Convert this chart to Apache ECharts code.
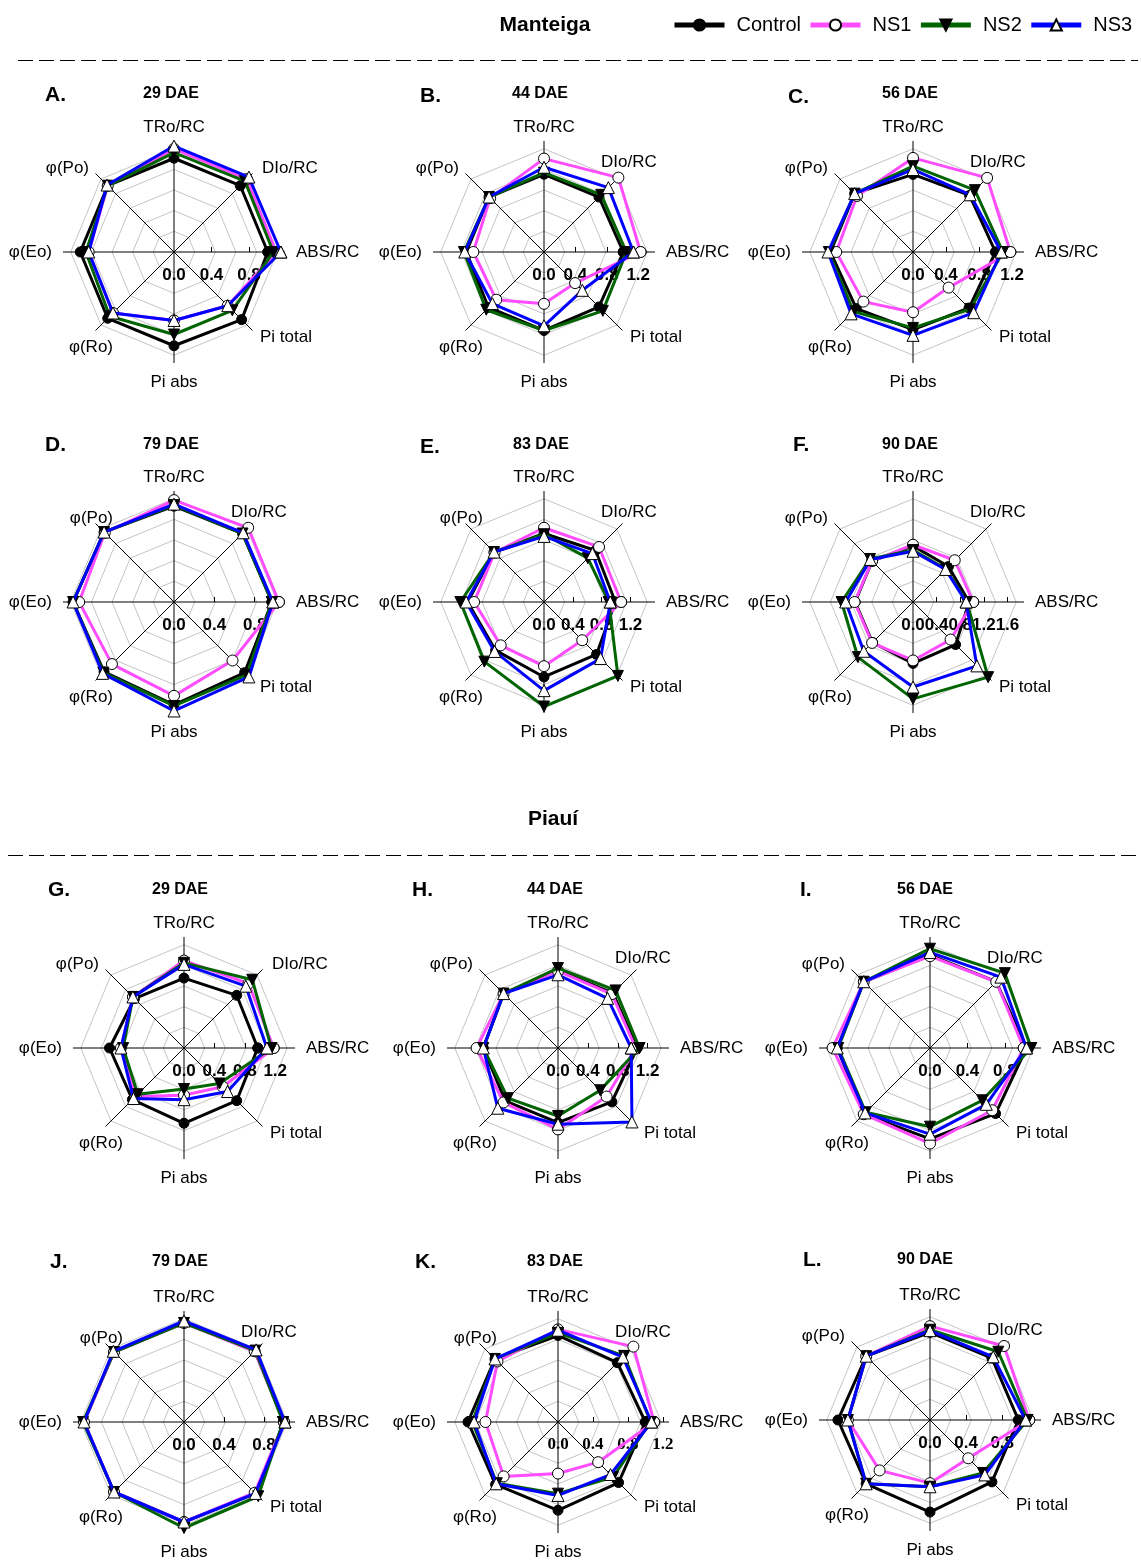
<!DOCTYPE html>
<html><head><meta charset="utf-8">
<script src="https://cdn.jsdelivr.net/npm/echarts@6/dist/echarts.min.js"></script>
<style>html,body{margin:0;padding:0;background:#fff}#c{width:1141px;height:1561px}</style>
</head><body><div id="c"></div>
<script>
// ---------- data ----------
const indicators = ['TRo/RC', 'DIo/RC', 'ABS/RC', 'Pi total', 'Pi abs', 'φ(Ro)', 'φ(Eo)', 'φ(Po)'];
const seriesNames = ['Control', 'NS1', 'NS2', 'NS3'];
const panelLetters = ['A.', 'B.', 'C.', 'D.', 'E.', 'F.', 'G.', 'H.', 'I.', 'J.', 'K.', 'L.'];
const panelDays = ['29 DAE', '44 DAE', '56 DAE', '79 DAE', '83 DAE', '90 DAE', '29 DAE', '44 DAE', '56 DAE', '79 DAE', '83 DAE', '90 DAE'];
const groupTitles = ['Manteiga', 'Piauí'];
// radial axis maximum (value at the end of the spokes) and tick labels of each panel
const radialMax = [1.184, 1.414, 1.345, 1.10, 1.54, 1.88, 1.46, 1.486, 1.185, 1.11, 1.27, 1.23];
const tickLabels = [
  [0, 0.4, 0.8], [0, 0.4, 0.8, 1.2], [0, 0.4, 0.8, 1.2],
  [0, 0.4, 0.8], [0, 0.4, 0.8, 1.2], [0, 0.4, 0.8, 1.2, 1.6],
  [0, 0.4, 0.8, 1.2], [0, 0.4, 0.8, 1.2], [0, 0.4, 0.8],
  [0, 0.4, 0.8], [0, 0.4, 0.8, 1.2], [0, 0.4, 0.8]
];
// values in indicator order: TRo/RC, DIo/RC, ABS/RC, Pi total, Pi abs, φ(Ro), φ(Eo), φ(Po)
const A_Control = [1.00, 1.00, 1.00, 1.02, 1.00, 1.00, 1.00, 1.00];
const A_NS1 = [1.10, 1.10, 1.09, 0.81, 0.73, 0.92, 0.91, 1.00];
const A_NS2 = [1.06, 1.07, 1.06, 0.88, 0.88, 0.97, 0.94, 1.00];
const A_NS3 = [1.13, 1.13, 1.14, 0.81, 0.73, 0.92, 0.91, 1.01];

const B_Control = [0.99, 0.99, 1.01, 0.99, 1.00, 1.00, 0.99, 0.99];
const B_NS1 = [1.19, 1.34, 1.23, 0.56, 0.66, 0.86, 0.90, 0.97];
const B_NS2 = [1.01, 1.03, 1.05, 1.06, 1.00, 1.04, 1.02, 0.99];
const B_NS3 = [1.08, 1.16, 1.14, 0.69, 0.94, 0.93, 1.01, 0.99];

const C_Control = [0.94, 0.97, 1.00, 0.96, 0.94, 0.97, 1.00, 1.00];
const C_NS1 = [1.14, 1.27, 1.18, 0.61, 0.73, 0.85, 0.93, 0.96];
const C_NS2 = [1.04, 1.06, 1.09, 0.98, 0.92, 1.02, 1.02, 1.00];
const C_NS3 = [1.00, 0.98, 1.07, 1.04, 1.01, 1.06, 1.03, 1.00];

const D_Control = [0.95, 0.96, 0.97, 0.99, 1.02, 0.98, 1.00, 0.98];
const D_NS1 = [1.01, 1.04, 1.04, 0.82, 0.93, 0.87, 0.94, 0.97];
const D_NS2 = [0.96, 0.96, 0.97, 1.02, 1.03, 0.99, 1.00, 0.98];
const D_NS3 = [0.97, 0.97, 0.98, 1.05, 1.08, 1.00, 1.00, 0.98];

const E_Control = [0.95, 1.01, 0.99, 1.03, 1.04, 0.95, 1.06, 0.98];
const E_NS1 = [1.03, 1.08, 1.07, 0.75, 0.89, 0.85, 0.97, 0.97];
const E_NS2 = [0.94, 0.86, 0.90, 1.45, 1.45, 1.17, 1.16, 0.98];
const E_NS3 = [0.91, 0.95, 0.92, 1.11, 1.23, 0.97, 1.08, 0.98];

const F_Control = [0.95, 0.85, 0.95, 1.02, 1.04, 0.97, 0.98, 0.98];
const F_NS1 = [0.97, 1.00, 1.02, 0.90, 0.99, 0.98, 0.99, 0.98];
const F_NS2 = [0.88, 0.79, 0.91, 1.80, 1.64, 1.32, 1.21, 1.03];
const F_NS3 = [0.86, 0.78, 0.90, 1.53, 1.44, 1.18, 1.14, 1.02];

const G_Control = [0.92, 0.98, 0.97, 0.98, 0.99, 0.96, 0.98, 0.92];
const G_NS1 = [1.15, 1.20, 1.18, 0.72, 0.62, 0.90, 0.83, 0.95];
const G_NS2 = [1.12, 1.27, 1.15, 0.66, 0.54, 0.86, 0.80, 0.95];
const G_NS3 = [1.10, 1.15, 1.09, 0.81, 0.68, 0.94, 0.83, 0.95];

const H_Control = [1.04, 1.04, 1.06, 1.02, 1.00, 1.00, 1.00, 1.03];
const H_NS1 = [1.03, 1.02, 1.04, 0.92, 1.09, 1.03, 1.09, 1.03];
const H_NS2 = [1.07, 1.09, 1.09, 0.80, 0.91, 0.95, 1.00, 1.03];
const H_NS3 = [0.98, 0.94, 0.98, 1.40, 1.02, 1.14, 1.00, 1.03];

const I_Control = [0.99, 1.00, 1.03, 0.99, 0.97, 1.00, 0.99, 1.00];
const I_NS1 = [0.98, 1.00, 1.00, 0.94, 1.02, 1.00, 1.04, 1.00];
const I_NS2 = [1.06, 1.13, 1.08, 0.79, 0.84, 0.97, 0.98, 1.00];
const I_NS3 = [1.02, 1.07, 1.03, 0.85, 0.92, 0.98, 0.99, 1.00];

const J_Control = [1.00, 1.00, 1.00, 1.01, 1.00, 0.99, 1.00, 0.99];
const J_NS1 = [0.99, 1.00, 1.00, 1.00, 1.00, 0.99, 1.00, 0.99];
const J_NS2 = [0.99, 1.01, 0.99, 1.05, 1.06, 0.99, 1.01, 0.99];
const J_NS3 = [1.01, 1.02, 1.01, 1.01, 1.00, 0.99, 1.00, 1.00];

const K_Control = [0.99, 0.96, 1.00, 0.98, 1.01, 1.01, 1.03, 1.02];
const K_NS1 = [1.06, 1.22, 1.10, 0.65, 0.59, 0.88, 0.83, 0.98];
const K_NS2 = [1.02, 1.07, 1.06, 0.89, 0.82, 0.99, 0.98, 1.02];
const K_NS3 = [1.05, 1.05, 1.07, 0.85, 0.84, 1.00, 0.96, 1.02];

const L_Control = [0.97, 0.97, 0.98, 0.97, 1.02, 1.00, 1.02, 1.00];
const L_NS1 = [1.04, 1.16, 1.10, 0.60, 0.70, 0.79, 0.91, 1.00];
const L_NS2 = [1.00, 1.07, 1.08, 0.83, 0.74, 1.00, 0.91, 1.00];
const L_NS3 = [0.99, 0.99, 1.06, 0.86, 0.74, 1.00, 0.91, 1.00];

const panelData = [
  [A_Control, A_NS1, A_NS2, A_NS3], [B_Control, B_NS1, B_NS2, B_NS3], [C_Control, C_NS1, C_NS2, C_NS3],
  [D_Control, D_NS1, D_NS2, D_NS3], [E_Control, E_NS1, E_NS2, E_NS3], [F_Control, F_NS1, F_NS2, F_NS3],
  [G_Control, G_NS1, G_NS2, G_NS3], [H_Control, H_NS1, H_NS2, H_NS3], [I_Control, I_NS1, I_NS2, I_NS3],
  [J_Control, J_NS1, J_NS2, J_NS3], [K_Control, K_NS1, K_NS2, K_NS3], [L_Control, L_NS1, L_NS2, L_NS3]
];

// ---------- layout / style ----------
const FONT = '"Liberation Sans", Arial, Helvetica, sans-serif';
const centers = [
  [174, 252], [544, 252], [913, 252],
  [174, 602], [544, 602], [913, 602],
  [184, 1048], [558, 1048], [930, 1048],
  [184, 1422], [558, 1422], [930, 1420]
];
const letterPos = [[45, 95], [420, 96], [788, 97], [45, 445], [420, 447], [793, 445],
  [48, 890], [412, 890], [800, 890], [50, 1262], [415, 1262], [803, 1260]];
const dayPos = [[171, 94], [540, 94], [910, 94], [171, 445], [541, 445], [910, 445],
  [180, 890], [555, 890], [925, 890], [180, 1262], [555, 1262], [925, 1260]];
const SPOKE = 111;
const nameOffsets = {
  'TRo/RC': [0, -125, 'center'],
  'DIo/RC': [57, -90, 'left'],
  'ABS/RC': [122, 0, 'left'],
  'Pi total': [86, 85, 'left'],
  'Pi abs': [0, 130, 'center'],
  'φ(Ro)': [-61, 95, 'right'],
  'φ(Eo)': [-122, 0, 'right'],
  'φ(Po)': [-85, -84, 'right']
};
const farDIo = [0, 6];          // panels with DIo/RC placed further right
const nearPo = [3, 4, 9, 10];   // panels with φ(Po) placed nearer
const sStyles = [
  { line: '#000000', fill: '#000000', symbol: 'circle', size: 10, rotate: 0 },
  { line: '#FF4CFF', fill: '#FFFFFF', symbol: 'circle', size: 11, rotate: 0 },
  { line: '#006400', fill: '#000000', symbol: 'triangle', size: 11, rotate: 180 },
  { line: '#0000FF', fill: '#FFFFFF', symbol: 'triangle', size: 12, rotate: 0 }
];

const chart = echarts.init(document.getElementById('c'), null, { renderer: 'canvas' });
const polar = [], angleAxis = [], radiusAxis = [], series = [], graphic = [];

// angular position of indicator i: ABS/RC at 0 (right), clockwise
const angleOf = i => (i + 6) % 8;

for (let p = 0; p < 12; p++) {
  const [cx, cy] = centers[p];
  polar.push({ center: [cx, cy], radius: SPOKE });
  angleAxis.push({
    polarIndex: p, type: 'value', min: 0, max: 8, interval: 1, startAngle: 0, clockwise: true,
    axisLine: { show: false }, axisTick: { show: false }, axisLabel: { show: false },
    splitLine: { show: true, lineStyle: { color: '#000', width: 1 } }, z: 1
  });
  const ticks = tickLabels[p];
  radiusAxis.push({
    polarIndex: p, type: 'value', min: 0, max: radialMax[p],
    axisLine: { show: false }, splitLine: { show: false },
    axisTick: { show: true, customValues: ticks.filter(v => v > 0), length: 5, lineStyle: { color: '#000', width: 1 } },
    axisLabel: {
      show: true, customValues: ticks, formatter: v => Number(v).toFixed(1),
      fontSize: 17, fontWeight: 'bold', color: '#000', fontFamily: p === 10 ? '"Liberation Serif", serif' : FONT,
      margin: -23, verticalAlign: 'middle', showMinLabel: true, showMaxLabel: true, hideOverlap: false
    },
    z: 1
  });
  // gray octagonal grid: five equal levels up to the outer grid
  const gridMax = radialMax[p] * 0.93;
  for (let k = 1; k <= 5; k++) {
    const lv = gridMax * k / 5;
    const pts = [];
    for (let a = 0; a <= 8; a++) pts.push([lv, a]);
    series.push({
      type: 'line', coordinateSystem: 'polar', polarIndex: p, data: pts, symbol: 'none', silent: true,
      lineStyle: { color: '#C4C4C4', width: 1 }, z: 0, animation: false
    });
  }
  // data polygons
  panelData[p].forEach((vals, s) => {
    const st = sStyles[s];
    const pts = [];
    for (let a = 0; a < 8; a++) {
      const i = indicators.findIndex((_, j) => angleOf(j) === a);
      pts.push([vals[i], a]);
    }
    pts.push([pts[0][0], 8]);
    series.push({
      type: 'line', name: seriesNames[s], coordinateSystem: 'polar', polarIndex: p, data: pts,
      symbol: st.symbol, symbolSize: st.size, symbolRotate: st.rotate, showSymbol: true,
      lineStyle: { color: st.line, width: 3 },
      itemStyle: { color: st.fill, borderColor: '#000', borderWidth: 1 },
      z: 2 + s, animation: false
    });
  });
  // indicator names
  indicators.forEach(name => {
    let [dx, dy, al] = nameOffsets[name];
    if (name === 'DIo/RC' && farDIo.includes(p)) { dx = 88; dy = -84; }
    if (name === 'φ(Po)' && nearPo.includes(p)) { dx = -61; }
    graphic.push({ type: 'text', x: cx + dx, y: cy + dy, silent: true,
      style: { text: name, font: '17px ' + FONT, fill: '#000', textAlign: al, verticalAlign: 'middle', textVerticalAlign: 'middle' } });
  });
  graphic.push({ type: 'text', x: letterPos[p][0], y: letterPos[p][1], silent: true,
    style: { text: panelLetters[p], font: 'bold 21px ' + FONT, fill: '#000', textAlign: 'left', verticalAlign: 'middle', textVerticalAlign: 'middle' } });
  graphic.push({ type: 'text', x: dayPos[p][0], y: dayPos[p][1], silent: true,
    style: { text: panelDays[p], font: 'bold 16px ' + FONT, fill: '#000', textAlign: 'center', verticalAlign: 'middle', textVerticalAlign: 'middle' } });
}

graphic.push({ type: 'text', x: 545, y: 25, silent: true,
  style: { text: groupTitles[0], font: 'bold 21px ' + FONT, fill: '#000', textAlign: 'center', verticalAlign: 'middle', textVerticalAlign: 'middle' } });
graphic.push({ type: 'text', x: 553, y: 819, silent: true,
  style: { text: groupTitles[1], font: 'bold 21px ' + FONT, fill: '#000', textAlign: 'center', verticalAlign: 'middle', textVerticalAlign: 'middle' } });
graphic.push({ type: 'line', silent: true, shape: { x1: 18, y1: 60.5, x2: 1138, y2: 60.5 },
  style: { stroke: '#000', lineWidth: 1, lineDash: [15, 6] } });
graphic.push({ type: 'line', silent: true, shape: { x1: 8, y1: 855.5, x2: 1138, y2: 855.5 },
  style: { stroke: '#000', lineWidth: 1, lineDash: [15, 6] } });

chart.setOption({
  animation: false,
  textStyle: { fontFamily: FONT },
  legend: {
    data: seriesNames, left: 672, top: 15, padding: 0, itemWidth: 50, itemHeight: 14, itemGap: 7, selectedMode: false,
    lineStyle: { width: 5 },
    textStyle: { fontSize: 20, color: '#000', fontFamily: FONT, padding: [0, 0, 0, 7] }
  },
  polar, angleAxis, radiusAxis, series, graphic
});
</script>
</body></html>
